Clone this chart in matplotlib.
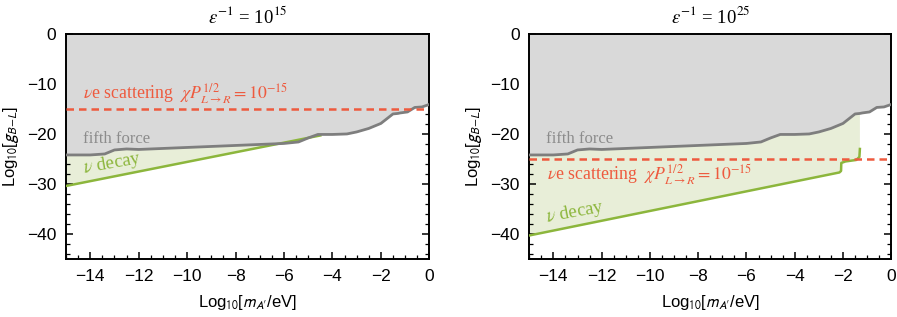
import numpy as np
import matplotlib
matplotlib.use("Agg")
import matplotlib.pyplot as plt
from matplotlib.ticker import MultipleLocator

plt.rcParams.update({
    "font.family": "Liberation Sans", "mathtext.fontset": "stix",
    "axes.linewidth": 1.4, "xtick.direction": "in", "ytick.direction": "in",
    "xtick.top": True, "ytick.right": True,
})

# fifth-force bound (upper gray region), shared by both panels
mass = [-15, -14, -13.4, -13.0, -12.5, -12, -11, -10, -9, -8, -7, -6, -5.4,
        -5.0, -4.6, -4.0, -3.4, -3.0, -2.5, -2.0, -1.5, -1.3, -1.2, -0.9,
        -0.6, -0.3, 0]
fifth = [-24.2, -24.2, -24.0, -23.2, -23.0, -23.1, -22.9, -22.7, -22.5, -22.3,
         -22.1, -21.9, -21.6, -20.8, -20.1, -20.1, -20.0, -19.6, -18.9, -17.9,
         -16.0, -15.9, -15.8, -15.6, -14.7, -14.6, -14.1]

# neutrino decay bound per panel
decay_x = {"15": [-15, -4.5],
           "25": [-15, -2.15, -2.08, -2.07, -1.9, -1.45, -1.32, -1.3]}
decay_y = {"15": [-30.4, -20.3],
           "25": [-40.3, -27.7, -27.4, -25.8, -25.5, -25.2, -24.6, -23.0]}

# nu-e scattering level for chi P^1/2 = 1e-15
scatter = {"15": -15, "25": -25}

GRAY_FILL, GRAY_LINE = "#d9d9d9", "#7e7e7e"
GREEN_FILL, GREEN_LINE = "#e8eed8", "#8cb63c"
RED = "#ee5a3e"
SERIF = "Liberation Serif"

fig = plt.figure(figsize=(8.97, 3.17), dpi=100)
axes = [fig.add_axes([0.0736, 0.183, 0.405, 0.710]),
        fig.add_axes([0.590, 0.183, 0.4036, 0.710])]

mass_a = np.array(mass)
fifth_a = np.array(fifth)
scat_label = r"$\nu$e scattering  $\chi P^{1/2}_{L\to R} = 10^{-15}$"

for ax, key in zip(axes, ["15", "25"]):
    dx, dy = np.array(decay_x[key]), np.array(decay_y[key])
    # green region: between decay line and fifth-force curve (gray covers overlap)
    sel = mass_a <= dx[-1]
    ax.fill(np.concatenate([dx, mass_a[sel][::-1]]),
            np.concatenate([dy, fifth_a[sel][::-1]]),
            color=GREEN_FILL, lw=0, zorder=1)
    ax.fill_between(mass_a, fifth_a, 0, color=GRAY_FILL, lw=0, zorder=2)
    ax.plot(dx, dy, color=GREEN_LINE, lw=1.8, zorder=3)
    ax.plot(mass_a, fifth_a, color=GRAY_LINE, lw=2, zorder=3)
    ax.axhline(scatter[key], color=RED, lw=1.8, dashes=(3, 2), zorder=4)

    ax.set_xlim(-15, 0)
    ax.set_ylim(-45, 0)
    ax.xaxis.set_major_locator(MultipleLocator(2))
    ax.xaxis.set_minor_locator(MultipleLocator(0.5))
    ax.yaxis.set_major_locator(MultipleLocator(10))
    ax.yaxis.set_minor_locator(MultipleLocator(2))
    ax.tick_params(which="major", length=5, width=1.1, labelsize=12.5, pad=7)
    ax.tick_params(which="minor", length=3, width=0.9)
    ax.set_xlabel(r"Log$_{10}$[$m_{A\prime}$/eV]", fontsize=12,
                  math_fontfamily="stixsans", labelpad=7)
    ax.set_ylabel(r"Log$_{10}$[$g_{B\!-\!L}$]", fontsize=12,
                  math_fontfamily="stixsans", labelpad=4)
    ax.set_title(r"$\epsilon^{-1}$ = 10$^{%s}$" % key, fontsize=13.5,
                 family=SERIF, pad=8)

    ax.text(-14.3, -21.8, "fifth force", family=SERIF, fontsize=12,
            color="#8c8c8c", va="baseline", zorder=5)

axes[0].text(-14.3, -13.1, scat_label, family=SERIF, fontsize=12.8,
             color=RED, va="baseline", zorder=5)
axes[1].text(-14.25, -29.1, scat_label, family=SERIF, fontsize=12.8,
             color=RED, va="baseline", zorder=5)
axes[0].text(-14.25, -27.8, r"$\nu$ decay", family=SERIF, fontsize=13.5,
             color=GREEN_LINE, rotation=10, rotation_mode="anchor",
             va="baseline", zorder=5)
axes[1].text(-14.25, -37.7, r"$\nu$ decay", family=SERIF, fontsize=13.5,
             color=GREEN_LINE, rotation=10.5, rotation_mode="anchor",
             va="baseline", zorder=5)

fig.savefig("out.png", dpi=100, facecolor="white")
